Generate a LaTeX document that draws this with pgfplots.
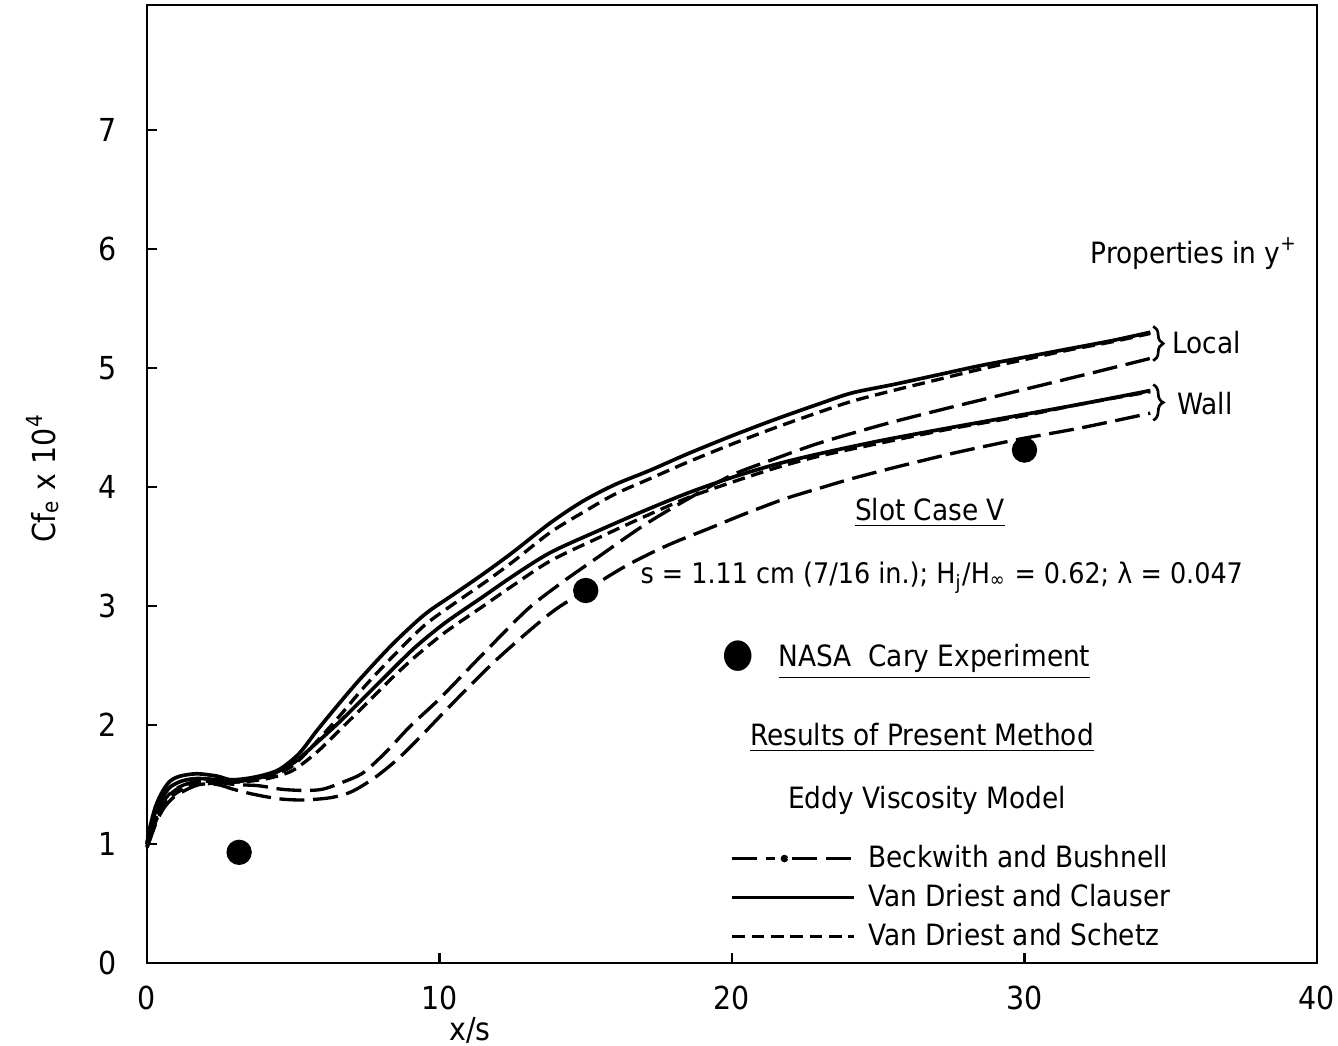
\documentclass[border=0pt]{standalone}
\usepackage{fontspec}
\setmainfont{DejaVu Sans Condensed}
\usepackage{pgfplots}
\pgfplotsset{compat=1.18}
\usetikzlibrary{decorations.pathreplacing}

% skin friction, local properties in y+
\pgfplotstableread{
x y
0 0.98
0.15 1.10
0.35 1.25
0.6 1.37
0.9 1.45
1.3 1.50
1.8 1.53
2.4 1.52
3.0 1.50
3.8 1.49
4.6 1.46
5.35 1.45
6.0 1.46
6.7 1.52
7.4 1.60
8.2 1.78
9.0 1.99
10.0 2.22
11.5 2.60
13.0 2.97
14.2 3.20
15.3 3.39
17.0 3.68
18.5 3.90
20.0 4.10
21.5 4.24
23.0 4.37
25.1 4.52
27.0 4.64
29.0 4.76
31.0 4.88
32.5 4.97
34.3 5.08
}\bbLocal
\pgfplotstableread{
x y
0 1.00
0.1 1.14
0.3 1.32
0.55 1.45
0.8 1.53
1.13 1.57
1.7 1.59
2.4 1.57
2.85 1.54
3.4 1.55
4.0 1.58
4.55 1.63
5.2 1.76
5.8 1.95
6.5 2.16
7.3 2.39
8.4 2.68
9.5 2.93
10.5 3.10
11.5 3.27
12.5 3.45
13.8 3.70
14.9 3.88
16.0 4.02
17.2 4.14
18.5 4.28
20.0 4.43
21.5 4.57
23.0 4.70
24.1 4.79
25.5 4.86
27.0 4.94
28.5 5.02
30.0 5.09
31.5 5.16
33.0 5.23
34.3 5.30
}\vdcLocal
\pgfplotstableread{
x y
0 0.98
0.15 1.10
0.35 1.25
0.6 1.37
0.9 1.44
1.3 1.50
1.7 1.52
2.3 1.53
3.0 1.53
3.6 1.54
4.3 1.58
5.0 1.66
5.8 1.86
6.6 2.08
7.5 2.34
8.5 2.60
9.5 2.84
10.5 3.02
11.5 3.19
12.5 3.37
13.8 3.62
15.0 3.80
16.0 3.94
17.2 4.07
18.5 4.21
20.0 4.36
21.5 4.50
23.0 4.63
24.1 4.72
25.5 4.81
27.0 4.90
28.5 4.99
30.0 5.07
31.5 5.15
33.0 5.22
34.3 5.29
}\vdsLocal
% skin friction, wall properties in y+
\pgfplotstableread{
x y
0 0.97
0.15 1.07
0.35 1.20
0.6 1.31
0.9 1.39
1.3 1.45
1.8 1.50
2.4 1.50
2.95 1.46
3.6 1.42
4.5 1.38
5.35 1.37
6.3 1.39
7.0 1.44
7.8 1.56
8.6 1.72
9.5 1.94
10.4 2.17
12.0 2.56
13.8 2.94
15.0 3.13
16.4 3.34
17.8 3.51
19.2 3.65
20.5 3.78
21.8 3.90
23.0 3.99
24.1 4.07
25.5 4.16
27.5 4.28
29.0 4.36
30.0 4.41
32.0 4.50
34.3 4.62
}\bbWall
\pgfplotstableread{
x y
0 1.00
0.1 1.12
0.3 1.28
0.55 1.40
0.8 1.48
1.2 1.53
1.7 1.55
2.4 1.54
2.9 1.52
3.5 1.54
4.2 1.58
5.0 1.68
5.8 1.85
6.6 2.03
7.5 2.25
8.4 2.47
9.2 2.66
10.2 2.86
11.5 3.08
12.5 3.25
13.8 3.45
15.5 3.64
17.0 3.80
18.5 3.95
20.0 4.08
21.5 4.19
23.0 4.28
25.1 4.39
27.5 4.50
30.0 4.61
32.0 4.70
34.3 4.81
}\vdcWall
\pgfplotstableread{
x y
0 0.97
0.15 1.08
0.35 1.22
0.6 1.33
0.9 1.41
1.3 1.47
1.7 1.50
2.3 1.51
3.0 1.52
3.6 1.53
4.3 1.56
5.0 1.62
5.8 1.77
6.6 1.96
7.5 2.18
8.4 2.40
9.2 2.58
10.2 2.78
11.5 3.00
12.5 3.17
13.8 3.38
15.5 3.58
17.0 3.75
18.5 3.91
20.0 4.04
21.5 4.16
23.0 4.26
25.1 4.37
27.5 4.49
30.0 4.60
32.0 4.70
34.3 4.80
}\vdsWall
% NASA Cary experiment
\pgfplotstableread{
x y
3.15 0.93
15.0 3.13
30.0 4.31
}\cary

\newcommand{\txtfont}{\fontsize{8.8}{10}\selectfont}
\newcommand{\lblfont}{\fontsize{9.5}{11}\selectfont}

\begin{document}
\begin{tikzpicture}
\useasboundingbox (-44.1pt,-24.6pt) rectangle (357.3pt,288.9pt);
\begin{axis}[
  scale only axis,
  width=351pt, height=287.4pt,
  xmin=0, xmax=40, ymin=0, ymax=8.05,
  xtick={0,10,20,30,40}, ytick={0,1,...,7},
  tick pos=left, tick align=inside,
  major tick length=3pt,
  axis line style={line width=0.75pt},
  every tick/.style={black, line width=0.75pt},
  /pgf/number format/assume math mode=true,
  ticklabel style={font=\lblfont},
  yticklabel style={xshift=-5.5pt},
  xticklabel style={yshift=-3.5pt},
  xlabel={x/s},
  xlabel style={font=\lblfont, at={(axis description cs:0.276,-0.0804)}, anchor=base},
  ylabel={Cf\textsubscript{e} x 10\textsuperscript{4}},
  ylabel style={font=\lblfont, at={(axis description cs:-0.0786,0.506)}, anchor=base},
  clip=false,
  legend style={draw=none, fill=none, font=\txtfont,
    at={(axis cs:19.93,1.04)}, anchor=north west,
    row sep=0.5pt, inner sep=0pt,
    nodes={inner sep=1.5pt},
    /tikz/every odd column/.style={column sep=2.2pt}},
  legend cell align=left,
  legend image code/.code={\draw[#1] (0pt,0pt) -- (36.6pt,0pt);},
]
\addplot[black, line width=1pt, smooth, dash pattern=on 7.5pt off 2.6pt,
  legend image code/.code={
    \draw[black, line width=1pt] (0pt,0pt) -- (12.9pt,0pt);
    \fill[black] (15.6pt,0pt) circle (0.6pt);
    \draw[black, line width=1pt] (18pt,0pt) -- (36.6pt,0pt);}]
  table[x=x,y=y] {\bbLocal};
\addlegendentry{Beckwith and Bushnell}
\addplot[black, line width=1.1pt, smooth] table[x=x,y=y] {\vdcLocal};
\addlegendentry{Van Driest and Clauser}
\addplot[black, line width=1pt, smooth, dash pattern=on 3.8pt off 2pt] table[x=x,y=y] {\vdsLocal};
\addlegendentry{Van Driest and Schetz}

\addplot[black, line width=1pt, smooth, dash pattern=on 7.5pt off 2.6pt, forget plot]
  table[x=x,y=y] {\bbWall};
\addplot[black, line width=1.1pt, smooth, forget plot] table[x=x,y=y] {\vdcWall};
\addplot[black, line width=1pt, smooth, dash pattern=on 3.8pt off 2pt, forget plot] table[x=x,y=y] {\vdsWall};

\addplot[only marks, mark=*, mark size=3.6pt, black, forget plot] table[x=x,y=y] {\cary};

% annotations
\begin{scope}[every node/.style={inner sep=0pt, font=\txtfont}]
\node[anchor=base west] at (axis cs:32.24,5.88) {Properties in y\textsuperscript{+}};
\draw[line width=0.8pt, decorate, decoration={brace, amplitude=3pt}]
  (axis cs:34.4,5.35) -- (axis cs:34.4,5.06);
\node[anchor=base west] at (axis cs:35.04,5.12) {Local};
\draw[line width=0.8pt, decorate, decoration={brace, amplitude=3pt}]
  (axis cs:34.4,4.86) -- (axis cs:34.4,4.56);
\node[anchor=base west] at (axis cs:35.21,4.61) {Wall};
\node[anchor=base] at (axis cs:26.77,3.72) {\underline{Slot Case V}};
\node[anchor=base west, font=\fontsize{8.5}{10}\selectfont] at (axis cs:16.85,3.19)
  {s = 1.11 cm (7/16 in.); H\textsubscript{j}/H\textsubscript{∞} = 0.62; λ = 0.047};
\node[font=\fontsize{12}{12}\selectfont] at (axis cs:20.2,2.58) {●};
\node[anchor=base west] at (axis cs:21.57,2.49) {\underline{NASA\ \ Cary Experiment}};
\node[anchor=base west] at (axis cs:20.6,1.83) {\underline{Results of Present Method}};
\node[anchor=base west] at (axis cs:21.9,1.30) {Eddy Viscosity Model};
\end{scope}
\end{axis}
\end{tikzpicture}
\end{document}
